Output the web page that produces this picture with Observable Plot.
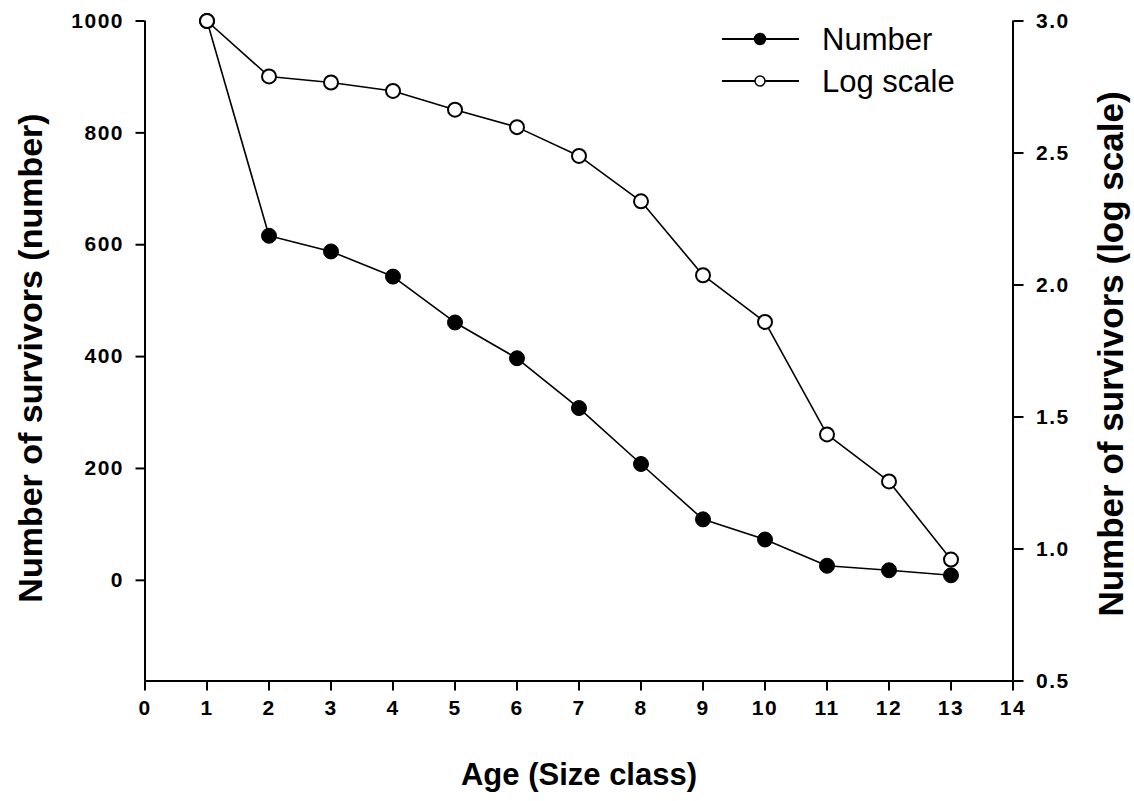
<!DOCTYPE html>
<html>
<head>
<meta charset="utf-8">
<script src="https://cdn.jsdelivr.net/npm/d3@7"></script>
<script src="https://cdn.jsdelivr.net/npm/@observablehq/plot@0.6"></script>
<style>
  html, body { margin: 0; padding: 0; background: white; }
  #wrap { position: relative; width: 1134px; height: 801px; }
  #legend { position: absolute; left: 700px; top: 0px; }
  g[aria-label$="tick label"] { letter-spacing: 1.5px; }
</style>
</head>
<body>
<div id="wrap"></div>
<script>
// ---- data ----
const ages = [1, 2, 3, 4, 5, 6, 7, 8, 9, 10, 11, 12, 13];
const numberSurvivors = [1000, 616, 588, 543, 461, 397, 308, 208, 109, 73, 26, 18, 9];
const logSurvivors = [3.0, 2.79, 2.767, 2.735, 2.664, 2.598, 2.489, 2.317, 2.037, 1.86, 1.434, 1.256, 0.96];
const xTicks = [0, 1, 2, 3, 4, 5, 6, 7, 8, 9, 10, 11, 12, 13, 14];
const leftTicks = [0, 200, 400, 600, 800, 1000];
const rightTicks = [0.5, 1.0, 1.5, 2.0, 2.5, 3.0];
const legendItems = ["Number", "Log scale"];
const xTitle = "Age (Size class)";
const leftTitle = "Number of survivors (number)";
const rightTitle = "Number of survivors (log scale)";

// ---- dual axis mapping: right domain [0.5, 3.0] onto left domain [leftMin, 1000] ----
const leftMin = -180, leftMax = 1000;
const rightMin = 0.5, rightMax = 3.0;
const k = (leftMax - leftMin) / (rightMax - rightMin);
const toLeft = v => leftMin + (v - rightMin) * k;
const toRight = v => (v - leftMin) / k + rightMin;

const numData = ages.map((a, i) => ({age: a, value: numberSurvivors[i]}));
const logData = ages.map((a, i) => ({age: a, value: toLeft(logSurvivors[i])}));

const FONT = "'Liberation Sans', Arial, Helvetica, sans-serif";

const chart = Plot.plot({
  width: 1134,
  height: 801,
  marginLeft: 144.5,
  marginRight: 121.5,
  marginTop: 20.5,
  marginBottom: 120.5,
  style: {fontFamily: FONT, fontSize: "21px", fontWeight: "bold", background: "white", color: "black", overflow: "visible"},
  x: {domain: [0, 14]},
  y: {domain: [leftMin, leftMax]},
  marks: [
    // axis lines
    Plot.ruleX([0], {stroke: "black", strokeWidth: 2}),
    Plot.ruleX([14], {stroke: "black", strokeWidth: 2}),
    Plot.ruleY([leftMin], {stroke: "black", strokeWidth: 2}),
    // axes
    Plot.axisX({ticks: xTicks, tickSize: 10, tickPadding: 9, tickFormat: d => String(d), label: null,
      strokeWidth: 2, fontSize: 21, fontWeight: "bold"}),
    Plot.axisY({anchor: "left", ticks: leftTicks, tickSize: 9, tickPadding: 12, tickFormat: d => String(d), label: null,
      strokeWidth: 2, fontSize: 21, fontWeight: "bold"}),
    Plot.axisY({anchor: "right", ticks: rightTicks.map(toLeft), tickSize: 10, tickPadding: 13,
      tickFormat: d => toRight(d).toFixed(1), label: null, strokeWidth: 2, fontSize: 21, fontWeight: "bold"}),
    // series
    Plot.line(numData, {x: "age", y: "value", stroke: "black", strokeWidth: 1.6}),
    Plot.dot(numData, {x: "age", y: "value", r: 7.5, fill: "black", stroke: "black", strokeWidth: 1}),
    Plot.line(logData, {x: "age", y: "value", stroke: "black", strokeWidth: 1.6}),
    Plot.dot(logData, {x: "age", y: "value", r: 7, fill: "white", stroke: "black", strokeWidth: 2}),
    // titles
    Plot.text([xTitle], {frameAnchor: "bottom", text: d => d, dy: 94, fontSize: 31, fontWeight: "bold",
      lineAnchor: "middle", textAnchor: "middle"}),
    Plot.text([leftTitle], {frameAnchor: "left", text: d => d, dx: -114, dy: 7, rotate: -90, fontSize: 34, fontWeight: "bold",
      lineAnchor: "middle", textAnchor: "middle"}),
    Plot.text([rightTitle], {frameAnchor: "right", text: d => d, dx: 99, dy: 3, rotate: -90, fontSize: 35, fontWeight: "bold",
      lineAnchor: "middle", textAnchor: "middle"})
  ]
});

const wrap = document.getElementById("wrap");
wrap.appendChild(chart);

// ---- legend ----
const lg = d3.select(wrap).append("svg")
  .attr("id", "legend")
  .attr("width", 300)
  .attr("height", 110)
  .style("overflow", "visible");
const rowY = [39, 81];
legendItems.forEach((name, i) => {
  const g = lg.append("g").attr("transform", `translate(0,${rowY[i]})`);
  g.append("line").attr("x1", 22).attr("x2", 99).attr("y1", 0).attr("y2", 0)
    .attr("stroke", "black").attr("stroke-width", 1.8);
  g.append("circle").attr("cx", 60).attr("cy", 0).attr("r", i === 0 ? 5.5 : 5)
    .attr("fill", i === 0 ? "black" : "white").attr("stroke", "black").attr("stroke-width", 1.5);
  g.append("text").attr("x", 122).attr("y", 11)
    .attr("font-family", FONT).attr("font-size", 31).attr("fill", "black")
    .text(name);
});
</script>
</body>
</html>
